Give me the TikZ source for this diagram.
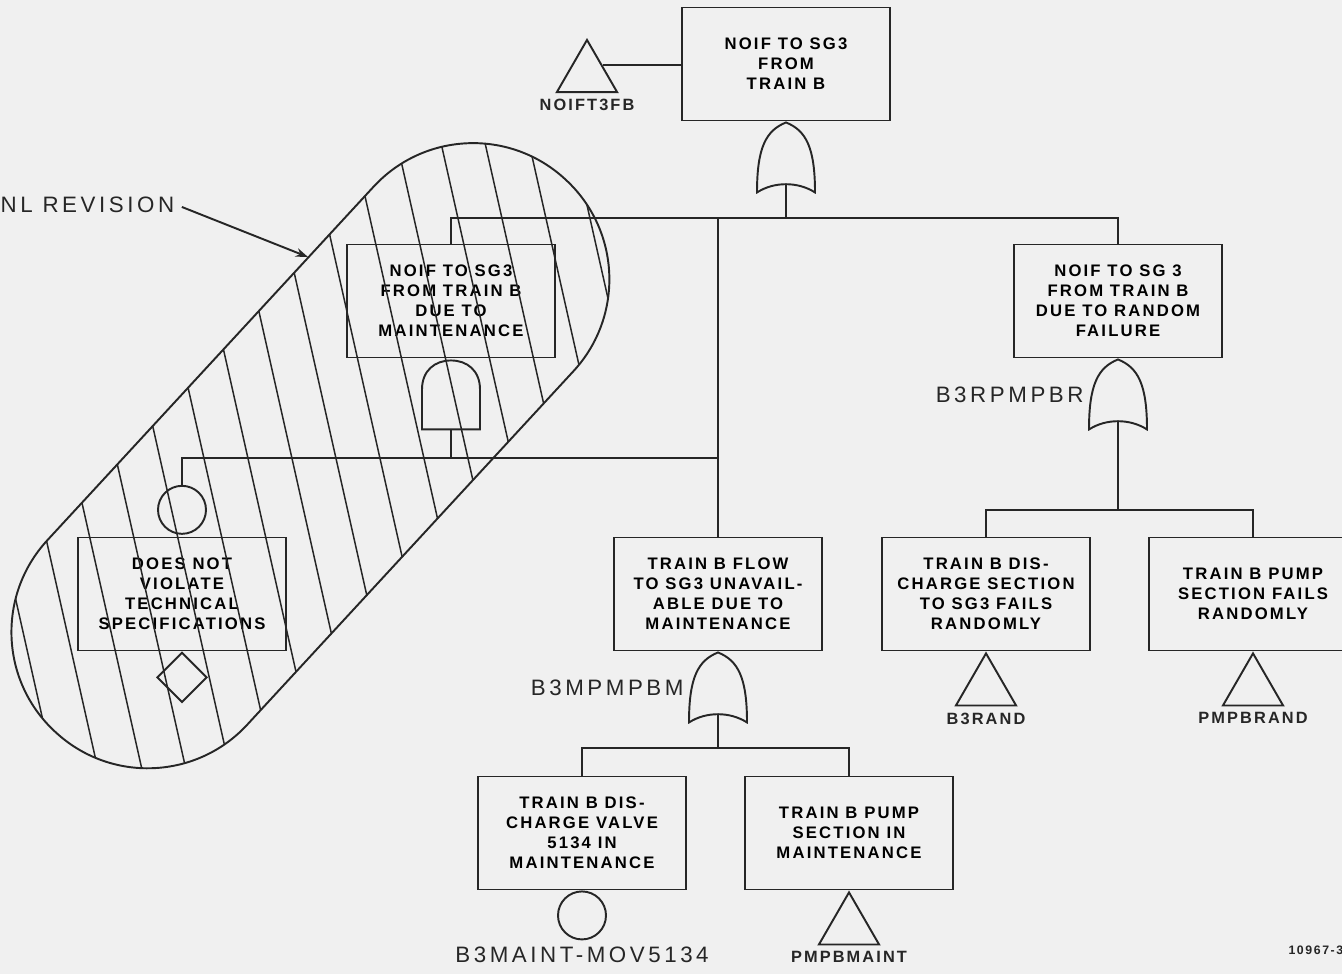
\documentclass[tikz,border=0pt]{standalone}
\usepackage{fontspec}
\setmainfont{Liberation Sans}
\newfontfamily\evfont[LetterSpace=13]{Liberation Sans}
\newfontfamily\gatefont[LetterSpace=16]{Liberation Sans}
\usepackage{tikz}
\usetikzlibrary{arrows.meta, positioning, shapes.geometric, calc}

\begin{document}
\begin{tikzpicture}[
        x=0.02cm, y=-0.02cm,
        line width=1.1pt,
        draw=black!85,
        % Node styles
        event/.style={rectangle, draw=black!85, minimum width=4.16cm, minimum height=2.26cm,
                      align=center, inner sep=2pt, font=\evfont\bfseries\fontsize{9.5}{11.4}\selectfont},
        basic/.style={circle, draw=black!85, minimum size=0.96cm, inner sep=0pt},
        undev/.style={regular polygon, regular polygon sides=3, draw=black!85, minimum size=1.39cm, inner sep=0pt},
        cond/.style={diamond, draw=black!85, minimum width=1cm, minimum height=1cm, inner sep=0pt},
        orgate/.style={rectangle, minimum width=1.2cm, minimum height=1.44cm, inner sep=0pt, outer sep=0pt,
                       path picture={
                         \begin{scope}[shift={(path picture bounding box.center)}]
                           \draw (0,-35) .. controls (20,-27) and (29,-10) .. (29,35)
                                 .. controls (12,24) and (-12,24) .. (-29,35)
                                 .. controls (-29,-10) and (-20,-27) .. cycle;
                           \draw (0,27) -- (0,36);
                         \end{scope}}},
        andgate/.style={rectangle, minimum width=1.2cm, minimum height=1.44cm, inner sep=0pt, outer sep=0pt,
                        path picture={
                          \begin{scope}[shift={(path picture bounding box.center)}]
                            \draw (-29,35) -- (-29,-5) .. controls (-29,-24) and (-16,-34) .. (0,-34)
                                  .. controls (16,-34) and (29,-24) .. (29,-5) -- (29,35) -- cycle;
                            \draw (0,35) -- (0,36);
                          \end{scope}}},
        gatelabel/.style={inner sep=1pt, font=\gatefont\fontsize{12.7}{14}\selectfont, text=black!85},
        idlabel/.style={inner sep=1pt, font=\evfont\bfseries\fontsize{9.3}{10}\selectfont, text=black!85},
        hatch/.style={line width=0.85pt},
        arrow/.style={-{Stealth[length=7pt, width=5pt]}}
    ]
        \fill[black!6] (0,0) rectangle (1342,974);
        \useasboundingbox (0,0) rectangle (1342,974);

        % Top event and its gate
        \node[event] (topev) at (786,64) {NOIF TO SG3\\FROM\\TRAIN B};
        \node[undev, anchor=north] (t3fb) at (587,38) {};
        \node[idlabel, below=2pt of t3fb] (t3fblabel) {NOIFT3FB};
        \node[orgate, below=0pt of topev] (gtop) {};

        % Second level
        \node[event] (maintev) at (451,301) {NOIF TO SG3\\FROM TRAIN B\\DUE TO\\MAINTENANCE};
        \node[event] (randev) at (1118,301) {NOIF TO SG 3\\FROM TRAIN B\\DUE TO RANDOM\\FAILURE};
        \node[andgate, below=0pt of maintev] (gmaint) {};
        \node[orgate, below=0pt of randev] (grand) {};
        \node[gatelabel, left=1pt of grand] (grandlabel) {B3RPMPBR};

        % Tech spec condition
        \node[event] (techspec) at (182,594) {DOES NOT\\VIOLATE\\TECHNICAL\\SPECIFICATIONS};
        \node[basic, above=1pt of techspec] (techcirc) {};
        \node[cond, below=0pt of techspec] (techcond) {};

        % Maintenance branch
        \node[event] (flowev) at (718,594) {TRAIN B FLOW\\TO SG3  UNAVAIL-\\ABLE DUE TO\\MAINTENANCE};
        \node[orgate, below=0pt of flowev] (gflow) {};
        \node[gatelabel, left=1pt of gflow] (gflowlabel) {B3MPMPBM};
        \node[event] (valvemaint) at (582,833) {TRAIN B DIS-\\CHARGE VALVE\\5134 IN\\MAINTENANCE};
        \node[event] (pumpmaint) at (849,833) {TRAIN B PUMP\\SECTION IN\\MAINTENANCE};
        \node[basic, below=0pt of valvemaint] (valvecirc) {};
        \node[gatelabel, below=2pt of valvecirc] (valvelabel) {B3MAINT-MOV5134};
        \node[undev, below=0pt of pumpmaint] (pumptri) {};
        \node[idlabel, below=2pt of pumptri] (pumplabel) {PMPBMAINT};

        % Random failure branch
        \node[event] (dischsec) at (986,594) {TRAIN B DIS-\\CHARGE SECTION\\TO SG3  FAILS\\RANDOMLY};
        \node[event] (pumprand) at (1253,594) {TRAIN B PUMP\\SECTION FAILS\\RANDOMLY};
        \node[undev, below=0pt of dischsec] (dischtri) {};
        \node[idlabel, below=2pt of dischtri] (dischlabel) {B3RAND};
        \node[undev, below=0pt of pumprand] (pumprtri) {};
        \node[idlabel, below=2pt of pumprtri] (pumprlabel) {PMPBRAND};

        % Bus coordinates
        \coordinate (bustop) at (786,218);
        \coordinate (busmaint) at (451,458);
        \coordinate (busflow) at (718,748);
        \coordinate (busrand) at (1118,510);
        \coordinate (t3fbedge) at ($(t3fb.corner 1)!0.49!(t3fb.corner 3)$);

        % Connectors
        \draw (t3fbedge) -- (t3fbedge -| topev.west);
        \draw (gtop.south) -- (bustop);
        \draw (maintev.north) -- (maintev.north |- bustop) -- (randev.north |- bustop) -- (randev.north);
        \draw (flowev.north) -- (flowev.north |- bustop);
        \draw (gmaint.south) -- (busmaint);
        \draw (techcirc.north) -- (techcirc.north |- busmaint) -- (flowev.north |- busmaint);
        \draw (gflow.south) -- (busflow);
        \draw (valvemaint.north) -- (valvemaint.north |- busflow) -- (pumpmaint.north |- busflow) -- (pumpmaint.north);
        \draw (grand.south) -- (busrand);
        \draw (dischsec.north) -- (dischsec.north |- busrand) -- (pumprand.north |- busrand) -- (pumprand.north);

        % Revision boundary with hatching
        \begin{scope}
            \clip[shift={(310.4,455.7)}, rotate=47.3, rounded corners=2.71cm] (-376,-136) rectangle (376,136);
            \foreach \k in {-5,...,15}
                \draw[hatch] ({25+44*\k},54) -- ({205+44*\k},854);
        \end{scope}
        \draw[shift={(310.4,455.7)}, rotate=47.3, rounded corners=2.71cm] (-376,-136) rectangle (376,136);

        % Revision note
        \node[gatelabel, anchor=west] (revnote) at (-2,205) {NL REVISION};
        \coordinate (revtip) at (308,257);
        \draw[arrow, shorten <=3pt] (revnote.east) -- (revtip);

        \node[idlabel, font=\evfont\bfseries\fontsize{7}{8}\selectfont, anchor=east] (figno) at (1346,950) {10967-3};
    \end{tikzpicture}
\end{document}
